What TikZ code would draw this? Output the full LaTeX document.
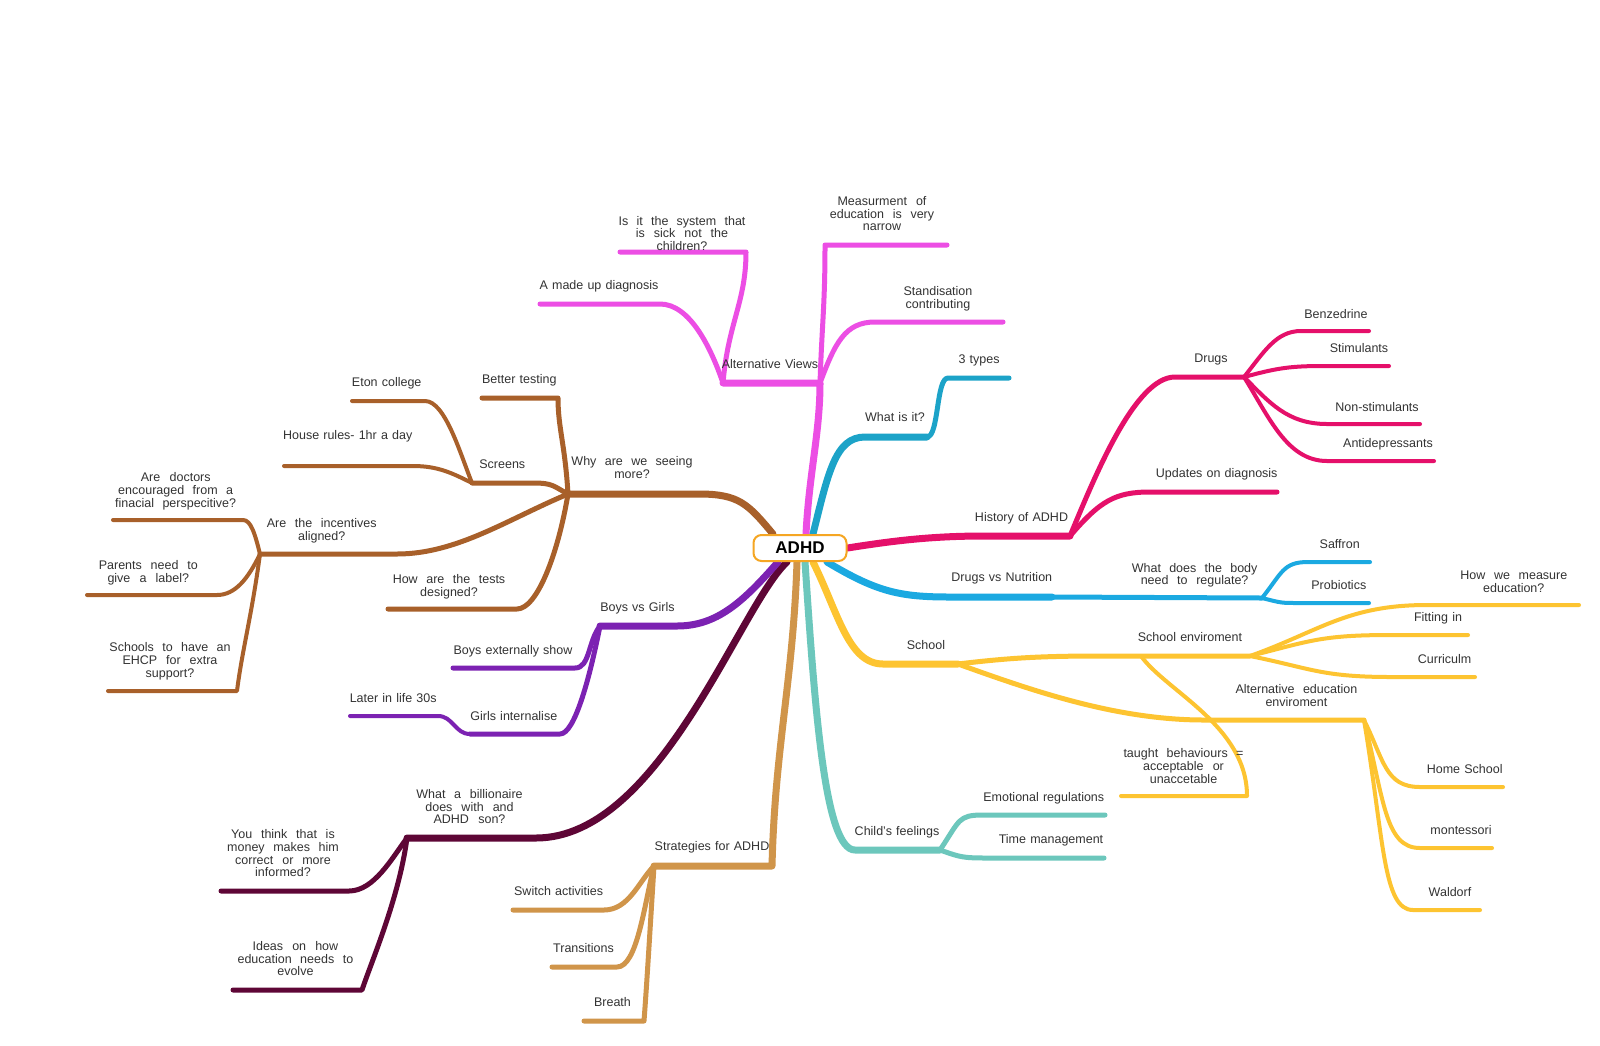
\documentclass[tikz,border=0pt]{standalone}
\usepackage{fontspec}
\setmainfont{Liberation Sans}
\pgfdeclarelayer{back}
\pgfdeclarelayer{bg}
\pgfsetlayers{back,bg,main}
\definecolor{txt}{RGB}{51,51,51}
\definecolor{cPink}{RGB}{236,78,228}
\definecolor{cTeal}{RGB}{28,163,200}
\definecolor{cRed}{RGB}{229,16,106}
\definecolor{cSky}{RGB}{27,169,225}
\definecolor{cYel}{RGB}{253,196,49}
\definecolor{cGrn}{RGB}{108,199,188}
\definecolor{cTan}{RGB}{208,149,74}
\definecolor{cMar}{RGB}{94,6,54}
\definecolor{cPur}{RGB}{124,34,178}
\definecolor{cBrn}{RGB}{168,96,42}
\definecolor{cOrg}{RGB}{245,166,35}
\begin{document}
\begin{tikzpicture}[x=1pt,y=-1pt,
  lbl/.style={font=\fontsize{12.5}{12.6}\selectfont, text=txt, inner sep=0pt,
    text width=200pt, align=center, anchor=base},
  wide/.style={lbl, execute at begin node={\spaceskip=6.8pt plus 1pt minus 1pt\relax}},
  Lone/.style={line width=7pt, line cap=round, line join=round},
  Ltwo/.style={line width=5pt, line cap=round, line join=round},
  Lthree/.style={line width=4pt, line cap=round, line join=round},
  root/.style={draw=cOrg, line width=2pt, fill=white, rounded corners=8pt,
    minimum width=93pt, minimum height=26pt, inner sep=0pt,
    font=\fontsize{17}{17}\selectfont\bfseries, text=black}
]
\useasboundingbox (0,0) rectangle (1600,1045);
\begin{pgfonlayer}{back}
\fill[white] (0,0) rectangle (1600,1045);
\end{pgfonlayer}

\node[root] (adhd) at (800,548) {ADHD};

% ---------- coordinates ----------
% pink
\coordinate (av0) at (723,383); \coordinate (av1) at (820,383);
\coordinate (mud0) at (540,304); \coordinate (mud1) at (660,304);
\coordinate (sys0) at (620,252); \coordinate (sys1) at (746,252);
\coordinate (mea0) at (825,245); \coordinate (mea1) at (947,245);
\coordinate (sta0) at (875,322); \coordinate (sta1) at (1003,322);
% teal-blue
\coordinate (wi0) at (865,437); \coordinate (wi1) at (927,437);
\coordinate (ty0) at (948,378); \coordinate (ty1) at (1009,378);
% crimson
\coordinate (hi0) at (985,536); \coordinate (hi1) at (1070,536);
\coordinate (dr0) at (1175,377); \coordinate (dr1) at (1244,377);
\coordinate (up0) at (1150,492); \coordinate (up1) at (1277,492);
\coordinate (bz0) at (1301,331); \coordinate (bz1) at (1369,331);
\coordinate (st0) at (1322,366); \coordinate (st1) at (1389,366);
\coordinate (ns0) at (1327,424); \coordinate (ns1) at (1420,424);
\coordinate (an0) at (1327,461); \coordinate (an1) at (1434,461);
% sky
\coordinate (dn0) at (950,597); \coordinate (dn1) at (1052,597);
\coordinate (wd1) at (1262,598);
\coordinate (sa0) at (1308,562); \coordinate (sa1) at (1370,562);
\coordinate (pr0) at (1300,603); \coordinate (pr1) at (1369,603);
% yellow
\coordinate (sc0) at (883,664); \coordinate (sc1) at (958,664);
\coordinate (se0) at (1100,656); \coordinate (se1) at (1250,656);
\coordinate (tb) at (1141,656);
\coordinate (hw0) at (1427,605); \coordinate (hw1) at (1579,605);
\coordinate (fi0) at (1391,635); \coordinate (fi1) at (1468,635);
\coordinate (cu0) at (1391,677); \coordinate (cu1) at (1475,677);
\coordinate (ae0) at (1204,720); \coordinate (ae1) at (1364,720);
\coordinate (ho0) at (1420,787); \coordinate (ho1) at (1503,787);
\coordinate (mo0) at (1420,848); \coordinate (mo1) at (1492,848);
\coordinate (wa0) at (1413,910); \coordinate (wa1) at (1480,910);
\coordinate (tb0) at (1121,796); \coordinate (tb1) at (1247,796);
% green
\coordinate (cf0) at (855,850); \coordinate (cf1) at (940,850);
\coordinate (em0) at (983,815); \coordinate (em1) at (1105,815);
\coordinate (tm0) at (987,858); \coordinate (tm1) at (1104,858);
% tan
\coordinate (sg0) at (654,866); \coordinate (sg1) at (772,866);
\coordinate (sw0) at (513,910); \coordinate (sw1) at (604,910);
\coordinate (tr0) at (552,967); \coordinate (tr1) at (617,967);
\coordinate (br0) at (584,1021); \coordinate (br1) at (644,1021);
% maroon
\coordinate (bi0) at (407,838); \coordinate (bi1) at (536,838);
\coordinate (yt0) at (221,891); \coordinate (yt1) at (349,891);
\coordinate (id0) at (233,990); \coordinate (id1) at (362,990);
% purple
\coordinate (bg0) at (600,626); \coordinate (bg1) at (677,626);
\coordinate (be0) at (453,668); \coordinate (be1) at (575,668);
\coordinate (gi0) at (470,734); \coordinate (gi1) at (560,734);
\coordinate (la0) at (350,716); \coordinate (la1) at (438,716);
% brown
\coordinate (wy0) at (568,494); \coordinate (wy1) at (699,494);
\coordinate (bt0) at (482,398); \coordinate (bt1) at (558,398);
\coordinate (sn0) at (472,483); \coordinate (sn1) at (533,483);
\coordinate (et0) at (352,401); \coordinate (et1) at (425,401);
\coordinate (hr0) at (284,466); \coordinate (hr1) at (413,466);
\coordinate (in0) at (260,554); \coordinate (in1) at (397,554);
\coordinate (do0) at (113,520); \coordinate (do1) at (243,520);
\coordinate (pa0) at (87,595); \coordinate (pa1) at (217,595);
\coordinate (sh0) at (108,691); \coordinate (sh1) at (237,691);
\coordinate (te0) at (388,609); \coordinate (te1) at (517,609);

\begin{pgfonlayer}{bg}
% pink
\draw[Lone,cPink] ([xshift=6pt]adhd.north) .. controls +(3,-60) and +(0,50) .. (av1) -- (av0);
\draw[Ltwo,cPink] (av0) .. controls +(-12,-35) and +(30,0) .. (mud1) -- (mud0);
\draw[Ltwo,cPink] (av0) .. controls +(5,-60) and +(0,50) .. (sys1) -- (sys0);
\draw[Ltwo,cPink] (av1) .. controls +(2,-60) and +(0,60) .. (mea0) -- (mea1);
\draw[Ltwo,cPink] (av1) .. controls +(15,-40) and +(-30,0) .. (sta0) -- (sta1);
% teal-blue
\draw[Lone,cTeal] ([xshift=13pt]adhd.north) .. controls +(15,-60) and +(-30,0) .. (wi0) -- (wi1);
\draw[Ltwo,cTeal] (wi1) .. controls +(12,0) and +(-12,0) .. (ty0) -- (ty1);
% crimson
\draw[Lone,cRed] (adhd.east) .. controls +(50,-8) and +(-50,0) .. (hi0) -- (hi1);
\draw[Ltwo,cRed] (hi1) .. controls +(25,-60) and +(-40,0) .. (dr0) -- (dr1);
\draw[Ltwo,cRed] (hi1) .. controls +(30,-35) and +(-35,0) .. (up0) -- (up1);
\draw[Lthree,cRed] (dr1) .. controls +(20,-25) and +(-25,0) .. (bz0) -- (bz1);
\draw[Lthree,cRed] (dr1) .. controls +(30,-8) and +(-35,0) .. (st0) -- (st1);
\draw[Lthree,cRed] (dr1) .. controls +(25,25) and +(-40,0) .. (ns0) -- (ns1);
\draw[Lthree,cRed] (dr1) .. controls +(25,40) and +(-40,0) .. (an0) -- (an1);
% sky
\draw[Lone,cSky] ([xshift=27pt]adhd.south) .. controls +(50,30) and +(-50,0) .. (dn0) -- (dn1);
\draw[Ltwo,cSky] (dn1) -- (wd1);
\draw[Lthree,cSky] (wd1) .. controls +(20,-25) and +(-25,0) .. (sa0) -- (sa1);
\draw[Lthree,cSky] (wd1) .. controls +(20,5) and +(-20,0) .. (pr0) -- (pr1);
% yellow
\draw[Lone,cYel] ([xshift=13pt]adhd.south) .. controls +(25,50) and +(-35,0) .. (sc0) -- (sc1);
\draw[Ltwo,cYel] (sc1) .. controls +(50,-6) and +(-60,0) .. (se0) -- (se1);
\draw[Ltwo,cYel] (sc1) .. controls +(70,25) and +(-90,0) .. (ae0) -- (ae1);
\draw[Lthree,cYel] (se1) .. controls +(70,-25) and +(-80,0) .. (hw0) -- (hw1);
\draw[Lthree,cYel] (se1) .. controls +(60,-15) and +(-70,0) .. (fi0) -- (fi1);
\draw[Lthree,cYel] (se1) .. controls +(60,12) and +(-70,0) .. (cu0) -- (cu1);
\draw[Lthree,cYel] (tb) .. controls +(25,35) and +(0,-70) .. (tb1) -- (tb0);
\draw[Lthree,cYel] (ae1) .. controls +(20,40) and +(-35,0) .. (ho0) -- (ho1);
\draw[Lthree,cYel] (ae1) .. controls +(20,80) and +(-35,0) .. (mo0) -- (mo1);
\draw[Lthree,cYel] (ae1) .. controls +(20,120) and +(-30,0) .. (wa0) -- (wa1);
% green
\draw[Lone,cGrn] ([xshift=5pt]adhd.south) .. controls +(10,150) and +(-30,0) .. (cf0) -- (cf1);
\draw[Ltwo,cGrn] (cf1) .. controls +(20,-30) and +(-25,0) .. (em0) -- (em1);
\draw[Ltwo,cGrn] (cf1) .. controls +(20,7) and +(-25,0) .. (tm0) -- (tm1);
% tan
\draw[Lone,cTan] ([xshift=-3pt]adhd.south) .. controls +(-4,120) and +(3,-120) .. (sg1) -- (sg0);
\draw[Ltwo,cTan] (sg0) .. controls +(-15,15) and +(25,0) .. (sw1) -- (sw0);
\draw[Ltwo,cTan] (sg0) .. controls +(-10,40) and +(20,0) .. (tr1) -- (tr0);
\draw[Ltwo,cTan] (sg0) .. controls +(-5,80) and +(3,-40) .. (br1) -- (br0);
% maroon
\draw[Lone,cMar] ([xshift=-13pt]adhd.south) .. controls +(-47,43) and +(124,0) .. (bi1) -- (bi0);
\draw[Ltwo,cMar] (bi0) .. controls +(-15,20) and +(25,0) .. (yt1) -- (yt0);
\draw[Ltwo,cMar] (bi0) .. controls +(-8,60) and +(10,-30) .. (id1) -- (id0);
% purple
\draw[Lone,cPur] ([xshift=-22pt]adhd.south) .. controls +(-35,40) and +(40,0) .. (bg1) -- (bg0);
\draw[Ltwo,cPur] (bg0) .. controls +(-12,15) and +(15,0) .. (be1) -- (be0);
\draw[Ltwo,cPur] (bg0) .. controls +(-10,50) and +(15,0) .. (gi1) -- (gi0);
\draw[Lthree,cPur] (gi0) .. controls +(-15,0) and +(15,0) .. (la1) -- (la0);
% brown
\draw[Lone,cBrn] ([xshift=-27pt]adhd.north) .. controls +(-25,-30) and +(40,0) .. (wy1) -- (wy0);
\draw[Ltwo,cBrn] (wy0) .. controls +(-3,-50) and +(0,30) .. (bt1) -- (bt0);
\draw[Ltwo,cBrn] (wy0) .. controls +(-15,-8) and +(20,0) .. (sn1) -- (sn0);
\draw[Lthree,cBrn] (sn0) .. controls +(-12,-30) and +(20,0) .. (et1) -- (et0);
\draw[Lthree,cBrn] (sn0) .. controls +(-20,-10) and +(25,0) .. (hr1) -- (hr0);
\draw[Ltwo,cBrn] (wy0) .. controls +(-60,25) and +(60,0) .. (in1) -- (in0);
\draw[Lthree,cBrn] (in0) .. controls +(-5,-20) and +(8,0) .. (do1) -- (do0);
\draw[Lthree,cBrn] (in0) .. controls +(-12,25) and +(18,0) .. (pa1) -- (pa0);
\draw[Lthree,cBrn] (in0) .. controls +(-8,60) and +(5,-40) .. (sh1) -- (sh0);
\draw[Ltwo,cBrn] (wy0) .. controls +(-10,60) and +(20,0) .. (te1) -- (te0);
\end{pgfonlayer}

% ---------- labels ----------
% pink
\node[lbl] (tAV) at (770,368.5) {Alternative Views};
\node[lbl] (tMud) at (599,289.5) {A made up diagnosis};
\node[wide] (tSys) at (682,225.2) {Is it the system that\\is sick not the\\children?};
\node[wide] (tMea) at (882,205.5) {Measurment of\\education is very\\narrow};
\node[lbl] (tSta) at (938,295.5) {Standisation\\contributing};
% teal-blue
\node[lbl] (tWi) at (895,421.2) {What is it?};
\node[lbl] (tTy) at (979,363.5) {3 types};
% crimson
\node[lbl] (tHi) at (1021.5,521.2) {History of ADHD};
\node[lbl] (tDr) at (1211,362.5) {Drugs};
\node[lbl] (tUp) at (1216.7,477.2) {Updates on diagnosis};
\node[lbl] (tBz) at (1336,318.5) {Benzedrine};
\node[lbl] (tSt) at (1359,352.2) {Stimulants};
\node[lbl] (tNs) at (1377,411.2) {Non-stimulants};
\node[lbl] (tAn) at (1388,447.8) {Antidepressants};
% sky
\node[lbl] (tDn) at (1001.8,581.5) {Drugs vs Nutrition};
\node[wide] (tWd) at (1194.6,572.2) {What does the body\\need to regulate?};
\node[lbl] (tSa) at (1339.7,548.5) {Saffron};
\node[lbl] (tPr) at (1338.8,589.5) {Probiotics};
% yellow
\node[lbl] (tSc) at (926,649.5) {School};
\node[lbl] (tSe) at (1190,641.8) {School enviroment};
\node[wide] (tHw) at (1513.8,579.8) {How we measure\\education?};
\node[lbl] (tFi) at (1438,621.8) {Fitting in};
\node[lbl] (tCu) at (1444.6,663.8) {Curriculm};
\node[wide] (tAe) at (1296.4,693.8) {Alternative education\\enviroment};
\node[lbl] (tHo) at (1464.7,773.8) {Home School};
\node[lbl] (tMo) at (1461,834.5) {montessori};
\node[lbl] (tWa) at (1450,896.2) {Waldorf};
\node[wide] (tTb) at (1183.5,757.8) {taught behaviours =\\acceptable or\\unaccetable};
% green
\node[lbl] (tCf) at (897,835.5) {Child's feelings};
\node[lbl] (tEm) at (1043.75,801.2) {Emotional regulations};
\node[lbl] (tTm) at (1051,843.8) {Time management};
% tan
\node[lbl] (tSg) at (712,850.2) {Strategies for ADHD};
\node[lbl] (tSw) at (558.6,895.5) {Switch activities};
\node[lbl] (tTr) at (583.5,952.8) {Transitions};
\node[lbl] (tBr) at (612.5,1006.5) {Breath};
% maroon
\node[wide] (tBi) at (469.5,798.5) {What a billionaire\\does with and\\ADHD son?};
\node[wide] (tYt) at (283,838.8) {You think that is\\money makes him\\correct or more\\informed?};
\node[wide] (tId) at (295.4,950.5) {Ideas on how\\education needs to\\evolve};
% purple
\node[lbl] (tBg) at (637.4,611.2) {Boys vs Girls};
\node[lbl] (tBe) at (513,654.5) {Boys externally show};
\node[lbl] (tGi) at (513.8,720.5) {Girls internalise};
\node[lbl] (tLa) at (393.2,702.8) {Later in life 30s};
% brown
\node[wide] (tWy) at (632,465.5) {Why are we seeing\\more?};
\node[lbl] (tBt) at (519.3,383.5) {Better testing};
\node[lbl] (tSn) at (502.3,468.8) {Screens};
\node[lbl] (tEt) at (386.7,386.8) {Eton college};
\node[lbl] (tHr) at (347.7,439.5) {House rules- 1hr a day};
\node[wide] (tIn) at (321.7,527.8) {Are the incentives\\aligned?};
\node[wide] (tDo) at (175.7,481.8) {Are doctors\\encouraged from a\\finacial perspecitive?};
\node[wide] (tPa) at (148.3,569.5) {Parents need to\\give a label?};
\node[wide] (tSh) at (170,651.8) {Schools to have an\\EHCP for extra\\support?};
\node[wide] (tTe) at (449,583.5) {How are the tests\\designed?};
\end{tikzpicture}
\end{document}
